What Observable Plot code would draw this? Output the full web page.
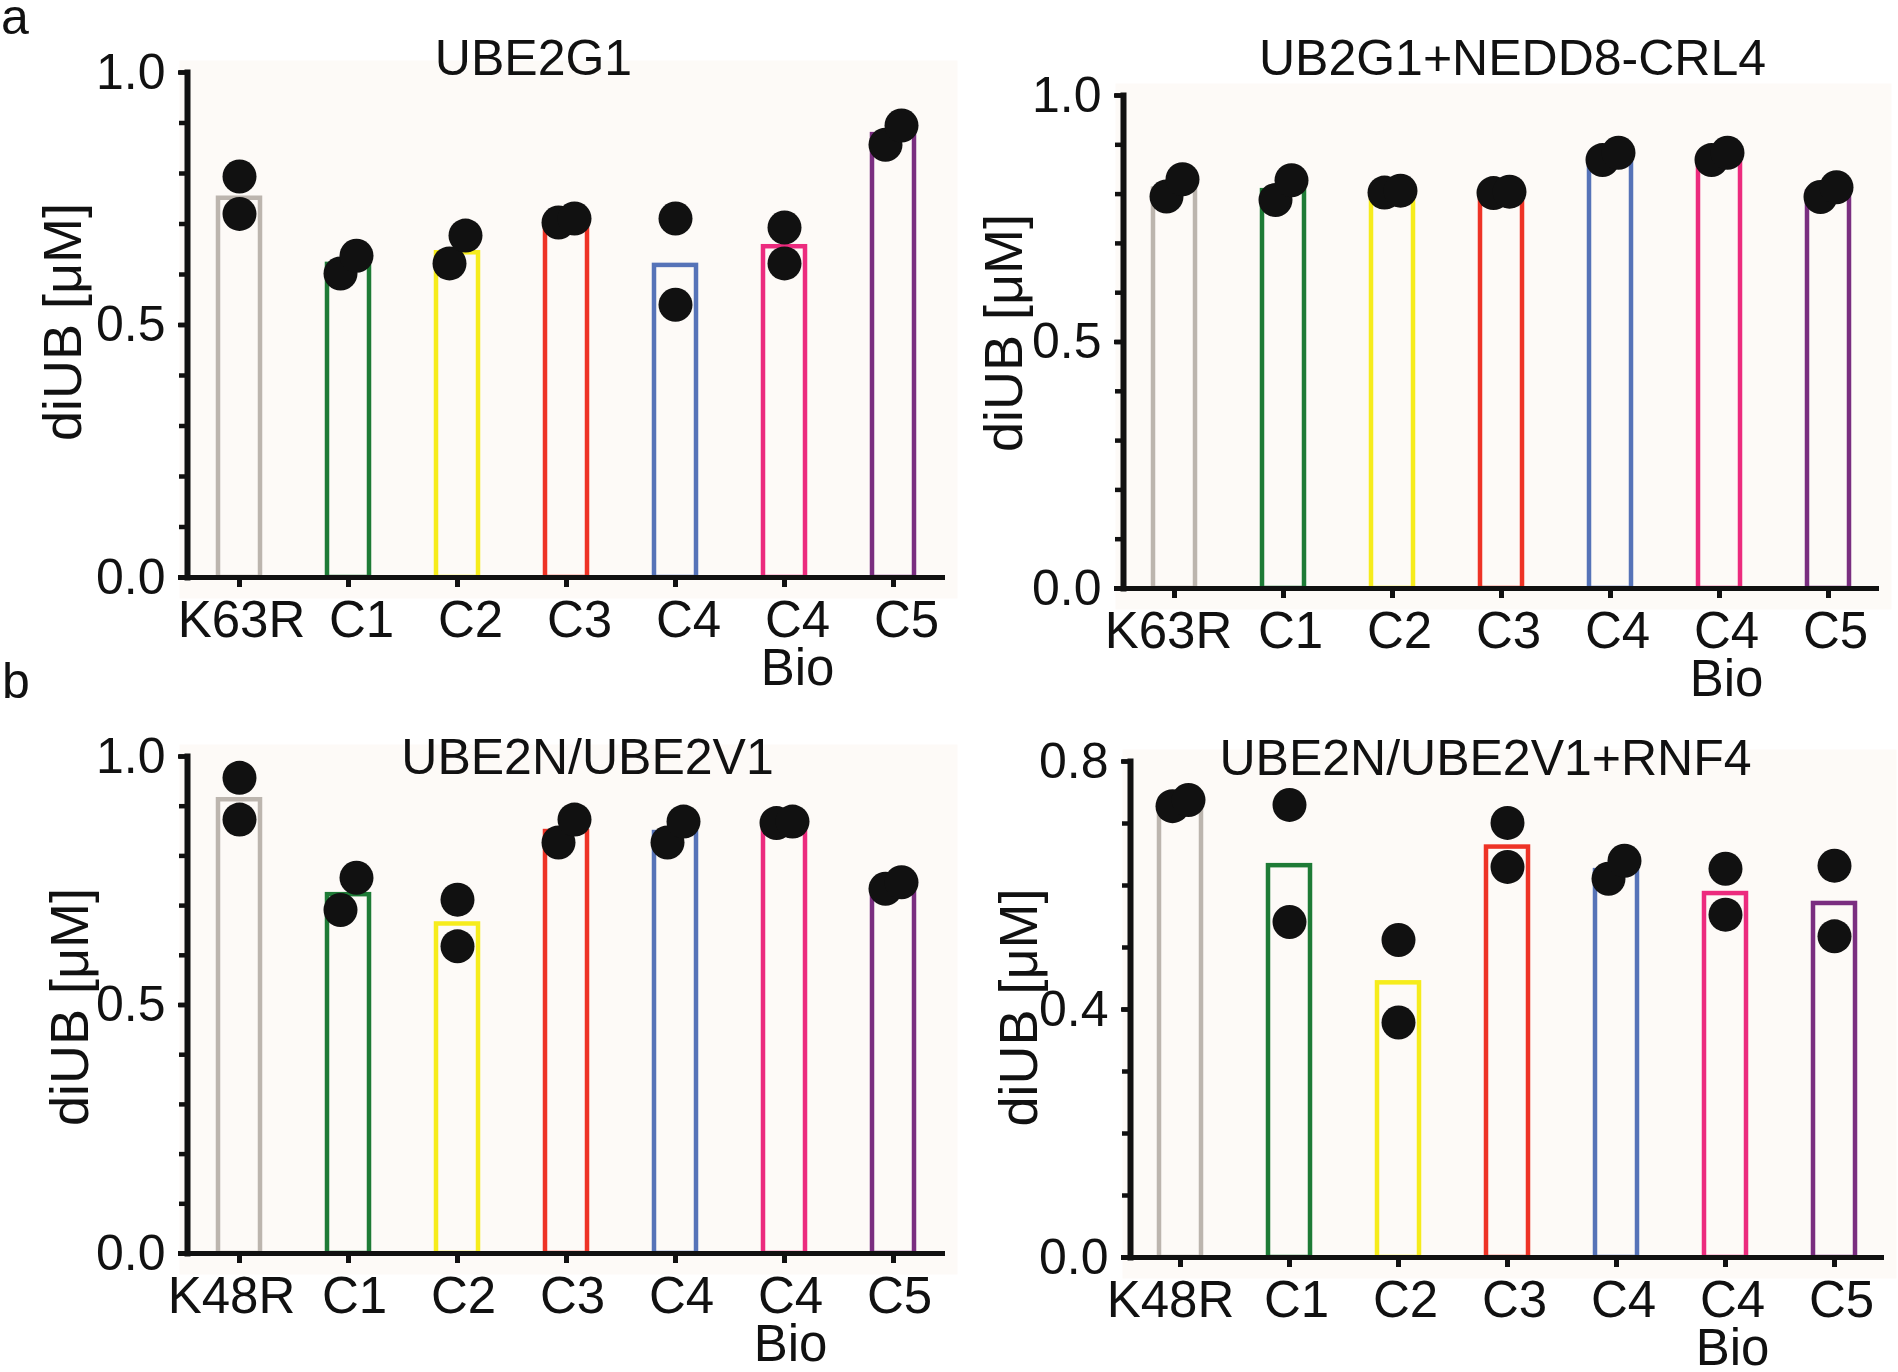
<!DOCTYPE html>
<html>
<head>
<meta charset="utf-8">
<script src="https://cdn.jsdelivr.net/npm/d3@7"></script>
<script src="https://cdn.jsdelivr.net/npm/@observablehq/plot@0.6"></script>
<style>
  body { margin: 0; background: #ffffff; }
  #root { position: relative; width: 1898px; height: 1372px; overflow: hidden;
          font-family: "Liberation Sans", Arial, sans-serif; color: #111; }
  .panel { position: absolute; }
  .letter { position: absolute; font-size: 50px; line-height: 0.6; color: #111; }
</style>
</head>
<body>
<div id="root"></div>
<script>
// ---------------- data ----------------
const categoriesK63 = ["K63R", "C1", "C2", "C3", "C4", "C4\nBio", "C5"];
const categoriesK48 = ["K48R", "C1", "C2", "C3", "C4", "C4\nBio", "C5"];
const barColors = ["#bcb5ae", "#1e7b36", "#f6ec1c", "#ee3326", "#5673b8", "#ec2b7e", "#7a2e80"];

// a, left: UBE2G1
const ube2g1Bars = [0.751, 0.620, 0.643, 0.707, 0.618, 0.655, 0.877];
const ube2g1Rep1 = [0.794, 0.602, 0.622, 0.703, 0.711, 0.693, 0.857];
const ube2g1Rep2 = [0.720, 0.637, 0.677, 0.711, 0.540, 0.622, 0.895];

// a, right: UB2G1+NEDD8-CRL4
const neddBars = [0.810, 0.807, 0.805, 0.803, 0.876, 0.876, 0.804];
const neddRep1 = [0.795, 0.788, 0.803, 0.802, 0.869, 0.869, 0.794];
const neddRep2 = [0.830, 0.828, 0.807, 0.805, 0.884, 0.884, 0.814];

// b, left: UBE2N/UBE2V1
const ube2nBars = [0.913, 0.722, 0.663, 0.849, 0.847, 0.866, 0.738];
const ube2nRep1 = [0.957, 0.691, 0.712, 0.827, 0.827, 0.866, 0.734];
const ube2nRep2 = [0.873, 0.756, 0.618, 0.873, 0.869, 0.869, 0.747];

// b, right: UBE2N/UBE2V1+RNF4
const rnf4Bars = [0.733, 0.632, 0.443, 0.662, 0.624, 0.587, 0.571];
const rnf4Rep1 = [0.728, 0.730, 0.512, 0.701, 0.611, 0.627, 0.632];
const rnf4Rep2 = [0.738, 0.541, 0.379, 0.630, 0.640, 0.553, 0.518];

const yLabel = "diUB [μM]";

// ---------------- drawing ----------------
const FONT = "'Liberation Sans', Arial, sans-serif";
const TINT = "#fdfaf7";
const DOT_R = 17;
const DOT_SHIFT = 8;

function panel(cfg) {
  const plotH = cfg.height - cfg.marginTop - cfg.marginBottom;
  const pxPerUnit = plotH / cfg.yMax;
  const barData = cfg.cats.map((c, i) => ({cat: c, value: cfg.bars[i], color: barColors[i]}));
  const dots = [];
  cfg.cats.forEach((c, i) => {
    const a = cfg.rep1[i], b = cfg.rep2[i];
    const overlap = Math.abs(a - b) * pxPerUnit < 2 * DOT_R;
    dots.push({cat: c, value: Math.min(a, b), side: overlap ? -1 : 0});
    dots.push({cat: c, value: Math.max(a, b), side: overlap ? 1 : 0});
  });
  const minor = d3.range(0, cfg.yMax + 1e-9, 0.1);
  const svg = Plot.plot({
    width: cfg.width,
    height: cfg.height,
    marginLeft: cfg.marginLeft,
    marginRight: cfg.marginRight,
    marginTop: cfg.marginTop,
    marginBottom: cfg.marginBottom,
    style: {fontFamily: FONT, background: "transparent", overflow: "visible", color: "#111"},
    x: {type: "band", domain: cfg.cats, paddingInner: 0.613, paddingOuter: 0.258, label: null},
    y: {domain: [0, cfg.yMax], label: null},
    marks: [
      Plot.frame({fill: TINT, stroke: null, insetLeft: -8, insetRight: -12, insetTop: -12, insetBottom: -21}),
      Plot.barY(barData, {x: "cat", y: "value", fill: "none", stroke: "color", strokeWidth: 4.5}),
      Plot.dot(dots.filter(d => d.side === -1), {x: "cat", y: "value", r: DOT_R, fill: "#111", dx: -DOT_SHIFT}),
      Plot.dot(dots.filter(d => d.side === 0), {x: "cat", y: "value", r: DOT_R, fill: "#111"}),
      Plot.dot(dots.filter(d => d.side === 1), {x: "cat", y: "value", r: DOT_R, fill: "#111", dx: DOT_SHIFT}),
      Plot.axisY({ticks: minor, tickSize: 8, tickFormat: () => "", strokeWidth: 4.5, stroke: "#111"}),
      Plot.axisY({ticks: cfg.yMajor, tickSize: 9, tickPadding: 13, tickFormat: d3.format(".1f"),
                  fontSize: 50, strokeWidth: 4.5, stroke: "#111", fill: "#111"}),
      Plot.frame({anchor: "left", strokeWidth: 6, stroke: "#111"}),
      Plot.ruleY([0], {strokeWidth: 5, stroke: "#111", insetLeft: -9}),
      Plot.axisX({tickSize: 10, tickFormat: () => "", strokeWidth: 5, stroke: "#111"}),
      Plot.axisX({ticks: cfg.cats.slice(0, 1), tickSize: 0, tickPadding: 25, dx: cfg.firstDx,
                  fontSize: 51, lineHeight: 0.95, fill: "#111"}),
      Plot.axisX({ticks: cfg.cats.slice(1), tickSize: 0, tickPadding: 25, dx: cfg.restDx,
                  fontSize: 51, lineHeight: 0.95, fill: "#111"}),
      Plot.text([cfg.title], {frameAnchor: "top", lineAnchor: "bottom", dx: cfg.titleDx, dy: cfg.titleDy,
                              fontSize: 50, fill: "#111"}),
      Plot.text([yLabel], {frameAnchor: "left", textAnchor: "middle", lineAnchor: "middle", rotate: -90,
                           dx: cfg.labelDx, dy: cfg.labelDy, fontSize: 54, fill: "#111"})
    ]
  });
  const wrap = document.createElement("div");
  wrap.className = "panel";
  wrap.style.left = cfg.left + "px";
  wrap.style.top = cfg.top + "px";
  wrap.appendChild(svg);
  return wrap;
}

const root = document.getElementById("root");

root.appendChild(panel({
  left: 0, top: 0, width: 949, height: 690,
  marginLeft: 187, marginRight: 4, marginTop: 72, marginBottom: 113,
  cats: categoriesK63, bars: ube2g1Bars, rep1: ube2g1Rep1, rep2: ube2g1Rep2,
  yMax: 1.0, yMajor: [0, 0.5, 1.0], title: "UBE2G1",
  titleDx: -33, titleDy: 2, labelDx: -124, labelDy: -3, firstDx: 2, restDx: 13
}));

root.appendChild(panel({
  left: 949, top: 0, width: 949, height: 690,
  marginLeft: 174, marginRight: 19, marginTop: 95, marginBottom: 102,
  cats: categoriesK63, bars: neddBars, rep1: neddRep1, rep2: neddRep2,
  yMax: 1.0, yMajor: [0, 0.5, 1.0], title: "UB2G1+NEDD8-CRL4",
  titleDx: 11, titleDy: -21, labelDx: -119, labelDy: -9, firstDx: -6, restDx: 7
}));

root.appendChild(panel({
  left: 0, top: 680, width: 949, height: 692,
  marginLeft: 187, marginRight: 4, marginTop: 76, marginBottom: 119,
  cats: categoriesK48, bars: ube2nBars, rep1: ube2nRep1, rep2: ube2nRep2,
  yMax: 1.0, yMajor: [0, 0.5, 1.0], title: "UBE2N/UBE2V1",
  titleDx: 21, titleDy: 17, labelDx: -117, labelDy: 2, firstDx: -8, restDx: 6
}));

root.appendChild(panel({
  left: 949, top: 680, width: 949, height: 692,
  marginLeft: 181, marginRight: 14, marginTop: 81, marginBottom: 115,
  cats: categoriesK48, bars: rnf4Bars, rep1: rnf4Rep1, rep2: rnf4Rep2,
  yMax: 0.8, yMajor: [0, 0.4, 0.8], title: "UBE2N/UBE2V1+RNF4",
  titleDx: -22, titleDy: 13, labelDx: -111, labelDy: -2, firstDx: -10, restDx: 7
}));

function letter(text, left, top) {
  const el = document.createElement("div");
  el.className = "letter";
  el.textContent = text;
  el.style.left = left + "px";
  el.style.top = top + "px";
  root.appendChild(el);
}
letter("a", 1, 2);
letter("b", 2, 666);
</script>
</body>
</html>
